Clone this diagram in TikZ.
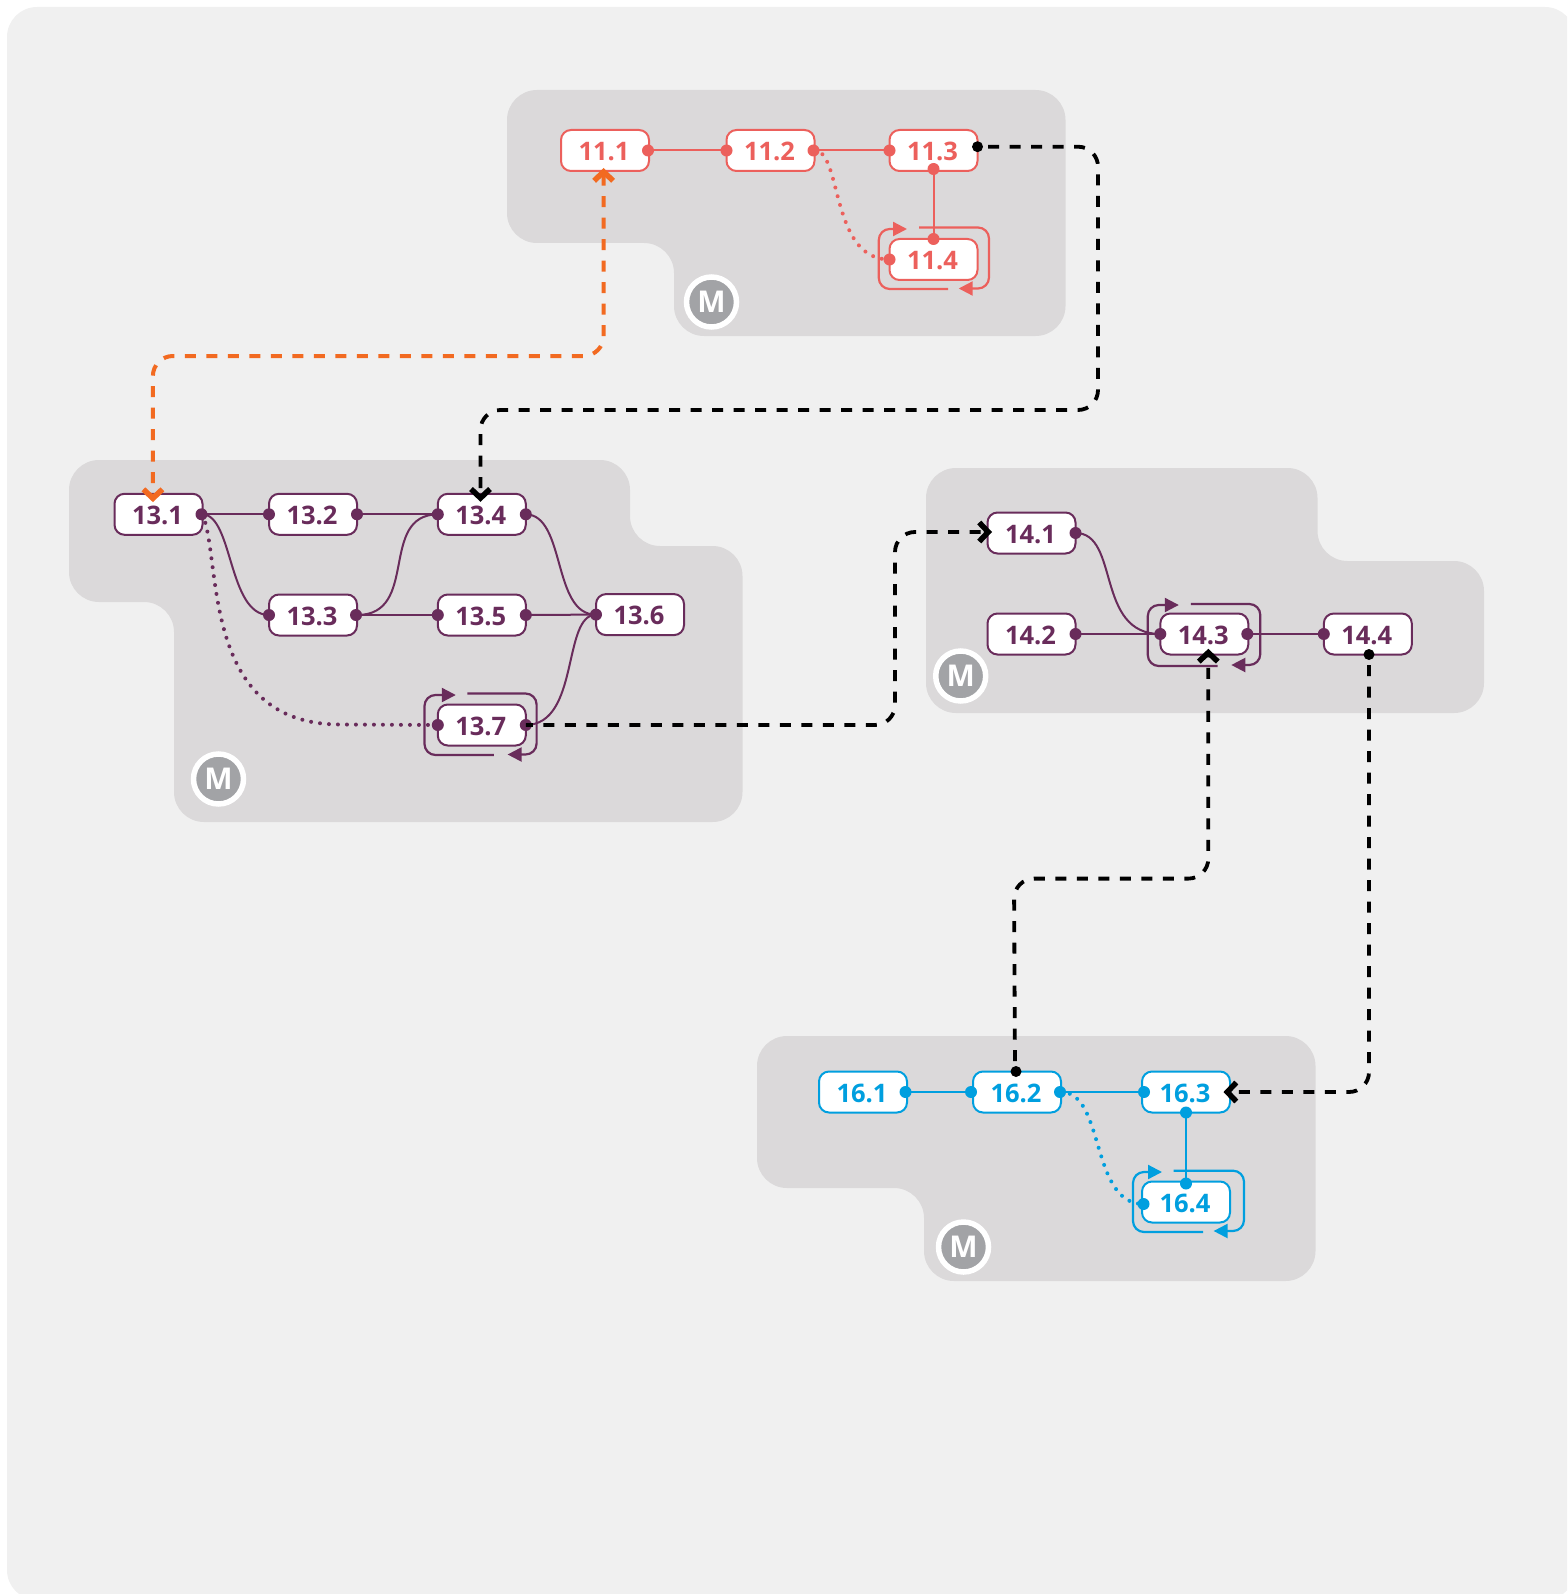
\documentclass[tikz,border=0pt]{standalone}
\usepackage{fontspec}
\setmainfont{Open Sans}
\usetikzlibrary{arrows.meta}
\definecolor{pagebg}{HTML}{F0F0F0}
\definecolor{panelbg}{HTML}{DBD9DA}
\definecolor{coral}{HTML}{EC605C}
\definecolor{plum}{HTML}{692C5B}
\definecolor{cyanb}{HTML}{009FDF}
\definecolor{orangeb}{HTML}{F26A21}
\definecolor{mgray}{HTML}{A2A3A6}
\tikzset{
  panel/.style={fill=panelbg,draw=none,rounded corners=30pt},
  boxn/.style={draw=#1,text=#1,fill=white,line width=2pt,rounded corners=10pt,minimum width=88pt,minimum height=41pt,inner sep=0pt,outer sep=0pt,text height=20.5pt,text depth=0pt,execute at end node=\kern2pt,font=\fontsize{25.5}{25.5}\selectfont\bfseries},
  portn/.style={circle,fill=#1,draw=none,inner sep=0pt,outer sep=0pt,minimum size=12pt},
  mbadge/.style={circle,fill=mgray,draw=white,line width=5.5pt,minimum size=50pt,inner sep=0pt,text=white,font=\fontsize{30}{30}\selectfont\bfseries},
  wire/.style={draw=#1,line width=2pt},
  dotted wire/.style={draw=#1,line width=4pt,line cap=round,dash pattern=on 0pt off 9pt},
  looparc/.style={draw=#1,line width=2.2pt,rounded corners=11pt,-{Triangle[length=14pt,width=14pt]}},
  jump/.style={draw=#1,line width=3.8pt,rounded corners=20pt,dash pattern=on 11pt off 10.5pt},
  chev/.tip={Straight Barb[length=9pt,width=19pt,line width=5.5pt]},
}
\begin{document}
\begin{tikzpicture}[x=1pt,y=-1pt]
\useasboundingbox (0,0) rectangle (1567,1594);
\clip (0,0) rectangle (1567,1594);
\fill[pagebg,rounded corners=30pt] (7,7) rectangle (1575,1600);
% panels
\path[panel] (507,90) -- (1065.5,90) -- (1065.5,336) -- (674,336) -- (674,243) -- (507,243) -- cycle;
\path[panel] (69,460) -- (630,460) -- (630,546) -- (742.5,546) -- (742.5,822) -- (174,822) -- (174,602) -- (69,602) -- cycle;
\path[panel] (926,468) -- (1317.5,468) -- (1317.5,561) -- (1484,561) -- (1484,713) -- (926,713) -- cycle;
\path[panel] (757,1036) -- (1315.5,1036) -- (1315.5,1281) -- (924,1281) -- (924,1188) -- (757,1188) -- cycle;
% badges
\node[mbadge] (m11) at (711.5,302) {M};
\node[mbadge] (m13) at (218.5,779) {M};
\node[mbadge] (m14) at (960.7,676) {M};
\node[mbadge] (m16) at (963.5,1247) {M};
% boxes
\node[boxn=coral] (n111) at (605,150.5) {11.1};
\node[boxn=coral] (n112) at (770.5,150.5) {11.2};
\node[boxn=coral] (n113) at (933.5,150.5) {11.3};
\node[boxn=coral] (n114) at (933.5,259.5) {11.4};
\node[boxn=plum] (n131) at (158.5,514.3) {13.1};
\node[boxn=plum] (n132) at (313,514.3) {13.2};
\node[boxn=plum] (n134) at (481.8,514.3) {13.4};
\node[boxn=plum] (n133) at (313,615) {13.3};
\node[boxn=plum] (n135) at (481.8,615) {13.5};
\node[boxn=plum] (n136) at (640,614.6) {13.6};
\node[boxn=plum] (n137) at (481.8,725) {13.7};
\node[boxn=plum] (n141) at (1031.5,533) {14.1};
\node[boxn=plum] (n142) at (1031.5,634) {14.2};
\node[boxn=plum] (n143) at (1204.3,634) {14.3};
\node[boxn=plum] (n144) at (1367.8,634) {14.4};
\node[boxn=cyanb] (n161) at (863,1092) {16.1};
\node[boxn=cyanb] (n162) at (1017,1092) {16.2};
\node[boxn=cyanb] (n163) at (1186,1092) {16.3};
\node[boxn=cyanb] (n164) at (1186,1202) {16.4};
% self loops
\begin{scope}[shift={(n114.center)}]
\draw[looparc=coral] (14.5,29.5) -- (-54.7,29.5) -- (-54.7,-30.5) -- (-26.5,-30.5);
\draw[looparc=coral] (-14.5,-32) -- (55.5,-32) -- (55.5,29) -- (25.2,29);
\end{scope}
\begin{scope}[shift={(n137.center)}]
\draw[looparc=plum] (12,30) -- (-57.3,30) -- (-57.3,-30) -- (-26,-30);
\draw[looparc=plum] (-14.4,-31.5) -- (54.8,-31.5) -- (54.8,29.5) -- (25.8,29.5);
\end{scope}
\begin{scope}[shift={(n143.center)}]
\draw[looparc=plum] (13.3,32) -- (-56.5,32) -- (-56.5,-29) -- (-25.5,-29);
\draw[looparc=plum] (-13.5,-30) -- (56,-30) -- (56,31) -- (27,31);
\end{scope}
\begin{scope}[shift={(n164.center)}]
\draw[looparc=cyanb] (17,30) -- (-53,30) -- (-53,-30) -- (-24,-30);
\draw[looparc=cyanb] (-12.4,-31.3) -- (58,-31.3) -- (58,29) -- (27.6,29);
\end{scope}
% connectors group 11
\draw[wire=coral] (n111.east) -- (n112.west);
\draw[wire=coral] (n112.east) -- (n113.west);
\draw[wire=coral] (n113.south) -- (n114.north);
\draw[dotted wire=coral] (n112.east) .. controls (842,150) and (830,259.7) .. (n114.west);
% connectors group 13
\draw[wire=plum] (n131.east) -- (n132.west);
\draw[wire=plum] (n132.east) -- (n134.west);
\draw[wire=plum] (n133.east) -- (n135.west);
\draw[wire=plum] (n135.east) -- (n136.west);
\draw[wire=plum] (n131.east) .. controls (233,515) and (228,615) .. (n133.west);
\draw[wire=plum] (n133.east) .. controls (420,615) and (378,515) .. (n134.west);
\draw[wire=plum] (n134.east) .. controls (566,515) and (552,615) .. (n136.west);
\draw[wire=plum] (n137.east) .. controls (580,724.5) and (562,615) .. (n136.west);
\draw[dotted wire=plum] (n131.east) .. controls (222,560) and (200,724.5) .. (340,724.5) -- (n137.west);
% connectors group 14
\draw[wire=plum] (n142.east) -- (n143.west);
\draw[wire=plum] (n143.east) -- (n144.west);
\draw[wire=plum] (n141.east) .. controls (1120,533) and (1095,634) .. (n143.west);
% connectors group 16
\draw[wire=cyanb] (n161.east) -- (n162.west);
\draw[wire=cyanb] (n162.east) -- (n163.west);
\draw[wire=cyanb] (n163.south) -- (n164.north);
\draw[dotted wire=cyanb] (n162.east) .. controls (1105,1092) and (1090,1204) .. ([xshift=1.5pt,yshift=-2pt]n164.west);
% ports
\node[portn=coral] (p1) at ([xshift=-1pt]n111.east) {};
\node[portn=coral] (p2) at (n112.west) {};
\node[portn=coral] (p3) at ([xshift=-1pt]n112.east) {};
\node[portn=coral] (p4) at (n113.west) {};
\node[portn=coral] (p5) at ([yshift=2pt]n113.south) {};
\node[portn=coral] (p6) at (n114.north) {};
\node[portn=coral] (p7) at (n114.west) {};
\node[portn=plum] (p8) at ([xshift=-1pt]n131.east) {};
\node[portn=plum] (p9) at (n132.west) {};
\node[portn=plum] (p10) at (n132.east) {};
\node[portn=plum] (p11) at (n134.west) {};
\node[portn=plum] (p12) at (n134.east) {};
\node[portn=plum] (p13) at (n133.west) {};
\node[portn=plum] (p14) at ([xshift=-1pt]n133.east) {};
\node[portn=plum] (p15) at (n135.west) {};
\node[portn=plum] (p16) at (n135.east) {};
\node[portn=plum] (p17) at (n136.west) {};
\node[portn=plum] (p18) at (n137.west) {};
\node[portn=plum] (p19) at (n137.east) {};
\node[portn=plum] (p20) at (n141.east) {};
\node[portn=plum] (p21) at (n142.east) {};
\node[portn=plum] (p22) at (n143.west) {};
\node[portn=plum] (p23) at ([xshift=-1pt]n143.east) {};
\node[portn=plum] (p24) at (n144.west) {};
\node[portn=cyanb] (p25) at ([xshift=-1.5pt]n161.east) {};
\node[portn=cyanb] (p26) at ([xshift=-2pt]n162.west) {};
\node[portn=cyanb] (p27) at ([xshift=-1pt]n162.east) {};
\node[portn=cyanb] (p28) at ([xshift=2pt]n163.west) {};
\node[portn=cyanb] (p29) at (n163.south) {};
\node[portn=cyanb] (p30) at ([yshift=-2pt]n164.north) {};
\node[portn=cyanb] (p31) at ([xshift=1.5pt,yshift=-2pt]n164.west) {};
% long jumps
\draw[jump=orangeb,line width=4pt,{chev}-{chev}] ([xshift=-1.4pt,yshift=3pt]n111.south) -- (603.6,356) -- (152.9,356) -- ([xshift=-5.6pt,yshift=-8.3pt]n131.north);
\draw[jump=black,-{chev},dash phase=11pt] ([yshift=3.8pt]n113.east) -- (1098,146.7) -- (1098,410) -- (480.5,410) -- ([xshift=-1.3pt,yshift=-8pt]n134.north);
\draw[jump=black,-{chev},dash phase=4pt] (n137.east) -- (895,725) -- (895,532) -- ([xshift=4.5pt,yshift=1pt]n141.west);
\draw[jump=black,-{chev},dash phase=11pt] ([xshift=-2pt]n162.north) -- (1014,878.6) -- (1208.3,878.6) -- ([xshift=4pt,yshift=5.7pt]n143.south);
\draw[jump=black,-{chev},dash phase=11pt] ([xshift=1.2pt]n144.south) -- (1369,1092) -- ([xshift=-6.5pt]n163.east);
% black ports
\node[portn=black,minimum size=11pt] (b1) at ([yshift=3.8pt]n113.east) {};
\node[portn=black,minimum size=11pt] (b2) at ([xshift=1.2pt]n144.south) {};
\node[portn=black,minimum size=11pt] (b3) at ([xshift=-1pt]n162.north) {};
\end{tikzpicture}
\end{document}
